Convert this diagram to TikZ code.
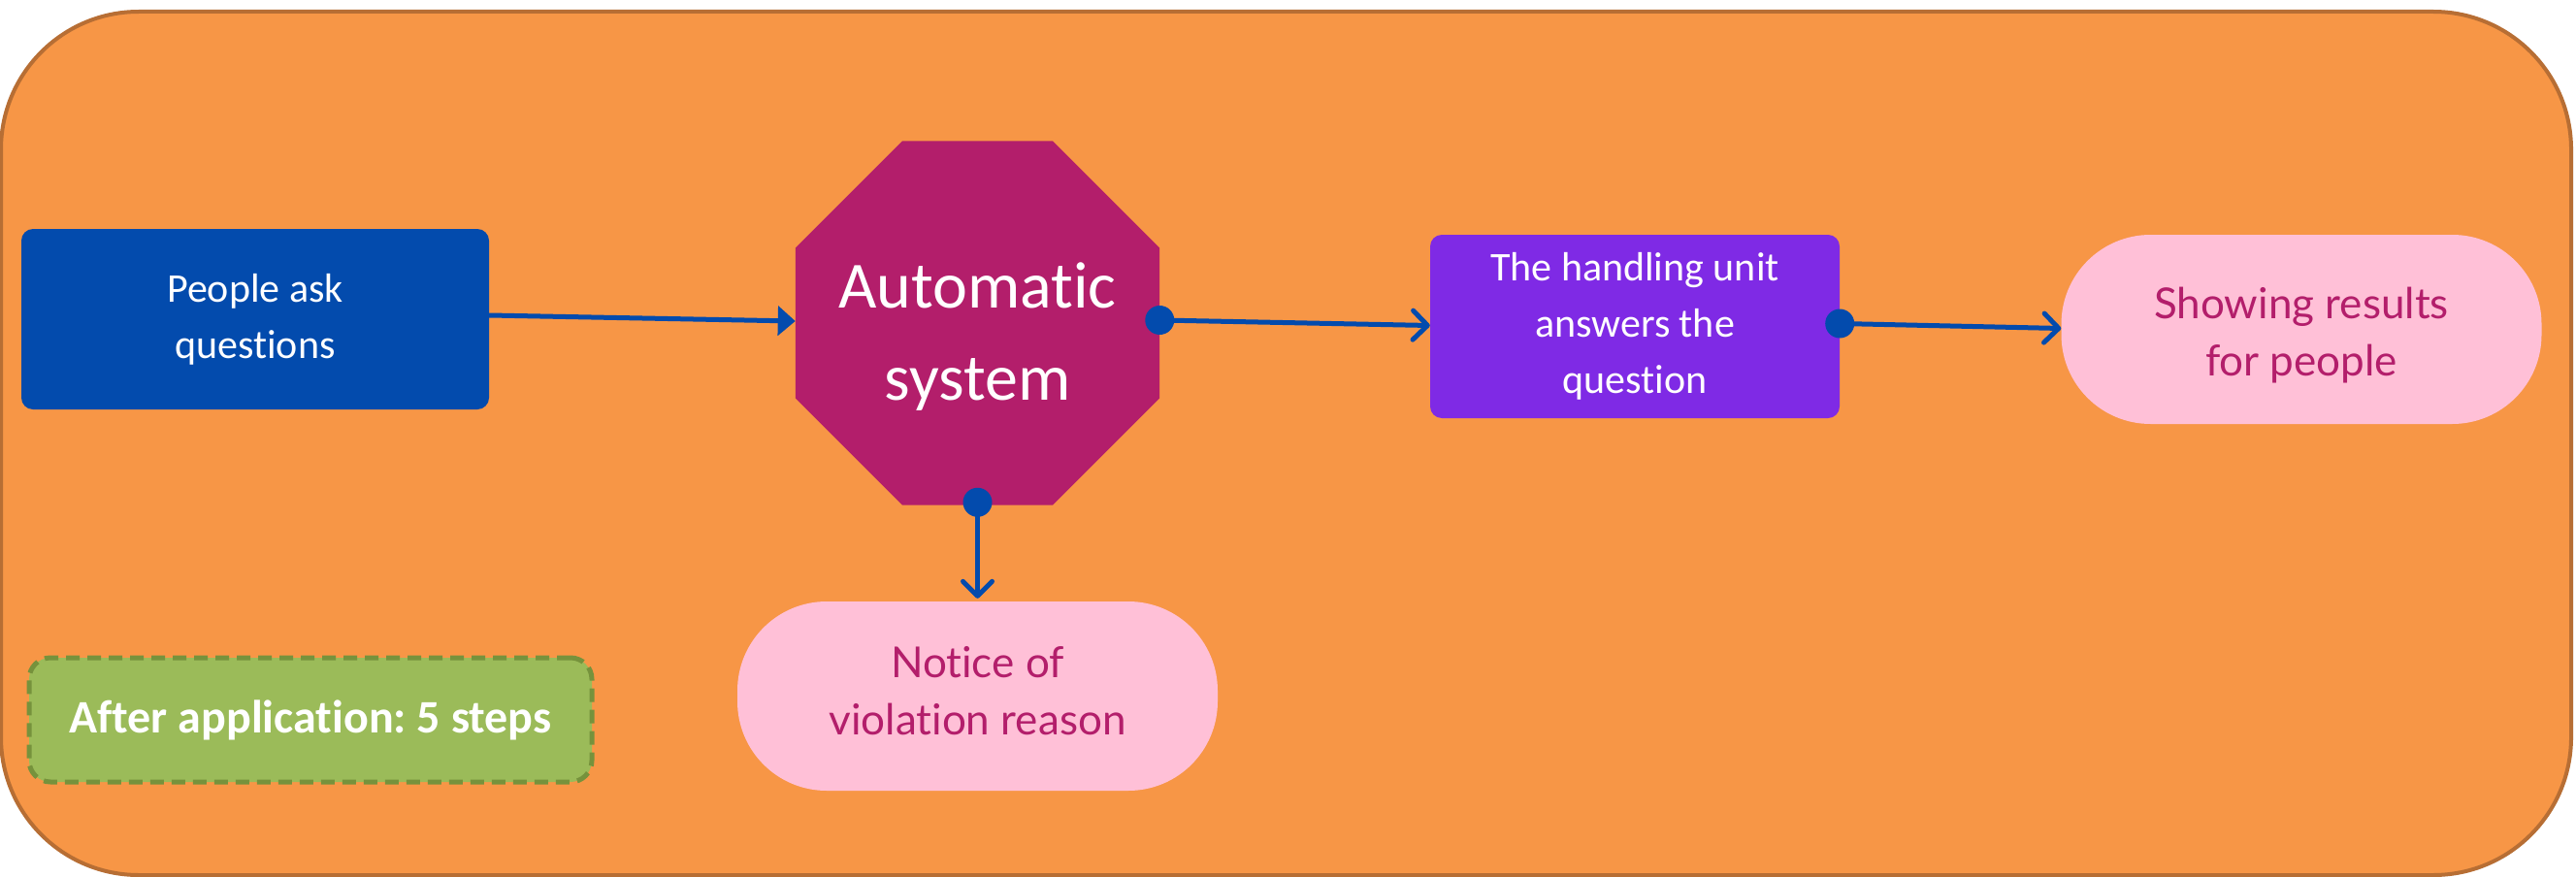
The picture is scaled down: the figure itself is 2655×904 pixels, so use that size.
\documentclass[tikz,border=0pt]{standalone}
\usepackage{fontspec}
\setmainfont{Carlito}[Ligatures={NoCommon}]
\newfontfamily\pillfont{Lato}[Ligatures={NoCommon}]
\usetikzlibrary{arrows.meta,shapes.geometric}
\frenchspacing

\definecolor{panelfill}{RGB}{247,150,70}
\definecolor{panelline}{RGB}{183,110,52}
\definecolor{askblue}{RGB}{3,75,173}
\definecolor{linkblue}{RGB}{3,75,173}
\definecolor{octofill}{RGB}{179,30,107}
\definecolor{unitviolet}{RGB}{127,42,229}
\definecolor{pillpink}{RGB}{255,192,215}
\definecolor{pilltext}{RGB}{179,30,107}
\definecolor{notegreen}{RGB}{155,187,89}
\definecolor{noteline}{RGB}{118,146,60}

\tikzset{
  whitebox/.style={rectangle, rounded corners=12pt, text=white, align=center,
    inner sep=0pt, font=\fontsize{42}{58}\selectfont},
  pill/.style={rectangle, rounded corners=92pt, fill=pillpink,
    inner sep=0pt, minimum width=495pt, minimum height=195pt},
  pilllabel/.style={text=pilltext, align=center, inner sep=0pt,
    font=\pillfont\fontsize{44}{59}\selectfont},
  link/.style={draw=linkblue, line width=5pt},
  barb/.style={link, -{Straight Barb[length=15pt, width=30pt, line cap=round, line join=round]}},
  solidtip/.style={link, -{Triangle[length=18pt, width=30pt]}},
  joint/.style={fill=linkblue},
}

\begin{document}
\begin{tikzpicture}[x=1pt, y=-1pt]
  % canvas and outer panel
  \fill[white] (0,0) rectangle (2655,904);
  \useasboundingbox (0,0) rectangle (2655,904);
  \draw[fill=panelfill, draw=panelline, line width=4pt, rounded corners=142pt]
    (1,12) rectangle (2650,902);

  % process nodes
  \node[whitebox, fill=askblue, minimum width=482pt, minimum height=186pt]
    (ask) at (263,329) {People ask\\questions};
  \node[regular polygon, regular polygon sides=8, minimum size=406pt,
        inner sep=0pt, fill=octofill]
    (auto) at (1007.5,333) {};
  \node[text=white, align=center, inner sep=0pt,
        font=\fontsize{68}{95}\selectfont]
    (autotext) at ([yshift=-14pt]auto.center) {Automatic\\system};
  \node[whitebox, fill=unitviolet, minimum width=422pt, minimum height=189pt]
    (unit) at (1685,336.5) {The handling unit\\answers the\\question};

  % rounded result pills
  \node[pill] (show) at (2372,339.5) {};
  \node[pilllabel] (showtext) at ([yshift=-6pt]show.center)
    {Showing results\\for people};
  \node[pill] (notice) at (1007.5,717.5) {};
  \node[pilllabel] (noticetext) at ([yshift=5pt]notice.center)
    {Notice of\\violation reason};

  % note box
  \node[rectangle, rounded corners=22pt, fill=notegreen, draw=noteline,
        line width=5pt, dash pattern=on 14pt off 8pt, text=white,
        minimum width=580pt, minimum height=128pt, inner sep=0pt,
        font=\bfseries\fontsize{48}{56}\selectfont]
    (note) at (320,742) {After application: 5 steps};

  % connectors
  \draw[solidtip] ([yshift=4pt]ask.east) -- ([yshift=2pt]auto.west);
  \draw[barb] ([yshift=3pt]auto.east) -- ([yshift=1pt]unit.west);
  \draw[barb] ([yshift=3pt]unit.east) -- ([yshift=1pt]show.west);
  \draw[barb] ([yshift=3pt]auto.south) -- ([yshift=3pt]notice.north);

  % connection dots
  \fill[joint] ([yshift=3pt]auto.east) circle (15pt);
  \fill[joint] ([yshift=3pt]unit.east) circle (15pt);
  \fill[joint] ([yshift=3pt]auto.south) circle (15pt);
\end{tikzpicture}
\end{document}
